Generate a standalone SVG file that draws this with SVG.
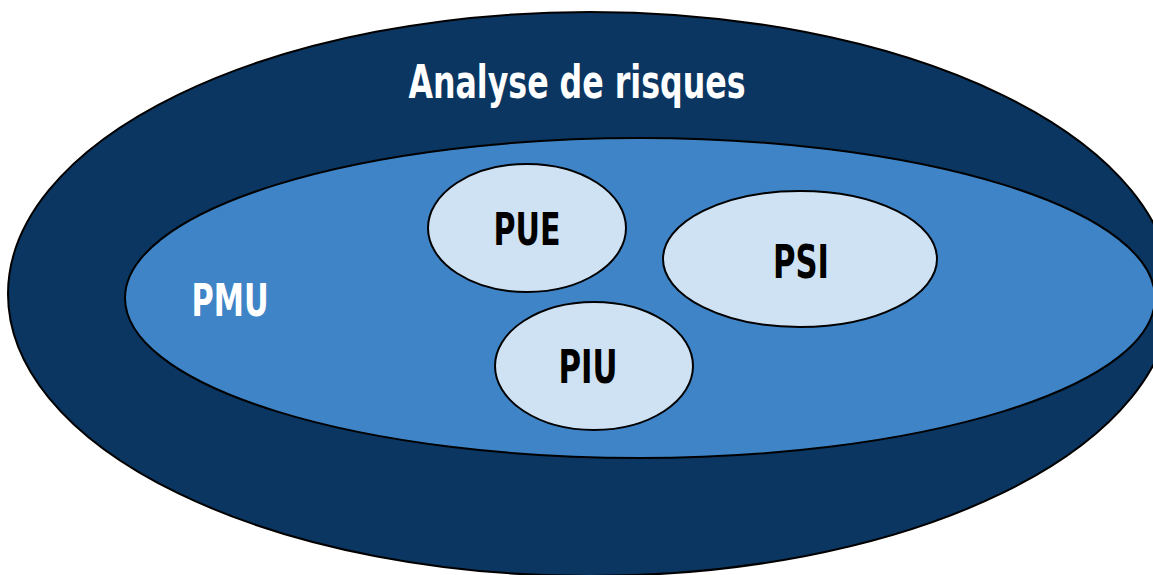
<svg xmlns="http://www.w3.org/2000/svg" width="1153" height="575" viewBox="0 0 1153 575">
<style>
.ell{stroke:#000;stroke-width:2}
.t{font-family:"DejaVu Sans Condensed","DejaVu Sans","Liberation Sans",sans-serif;font-weight:bold;font-stretch:condensed;text-anchor:middle}
.w{fill:#fff}
.k{fill:#000}
</style>
<rect width="1153" height="575" fill="#fff"/>
<g id="analyse">
<ellipse class="ell" cx="590" cy="294" rx="582" ry="282" fill="#0a3661"/>
<text class="t w" x="577" y="98" font-size="46" textLength="337" lengthAdjust="spacingAndGlyphs">Analyse de risques</text>
</g>
<g id="pmu">
<ellipse class="ell" cx="640" cy="298" rx="515" ry="160" fill="#3e84c6"/>
<text class="t w" x="230" y="316" font-size="45" textLength="77" lengthAdjust="spacingAndGlyphs">PMU</text>
</g>
<g id="pue">
<ellipse class="ell" cx="527" cy="228" rx="99" ry="64" fill="#cfe2f3"/>
<text class="t k" x="527" y="245" font-size="45" textLength="67" lengthAdjust="spacingAndGlyphs">PUE</text>
</g>
<g id="psi">
<ellipse class="ell" cx="800" cy="259" rx="137" ry="68" fill="#cfe2f3"/>
<text class="t k" x="801" y="278" font-size="46" textLength="56" lengthAdjust="spacingAndGlyphs">PSI</text>
</g>
<g id="piu">
<ellipse class="ell" cx="594" cy="366" rx="99" ry="64" fill="#cfe2f3"/>
<text class="t k" x="588" y="383" font-size="46" textLength="59" lengthAdjust="spacingAndGlyphs">PIU</text>
</g>
<g id="connectors"></g>
</svg>
